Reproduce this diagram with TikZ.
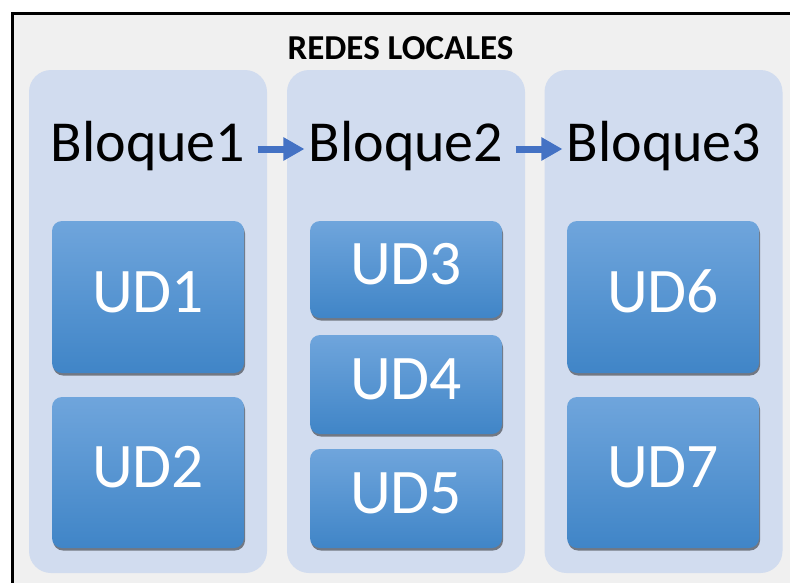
\documentclass[tikz,border=0pt]{standalone}
\usepackage{fontspec}
\setmainfont{Carlito}
\usetikzlibrary{arrows.meta,shadows}

\definecolor{pagebg}{RGB}{240,240,240}
\definecolor{colfill}{RGB}{209,220,239}
\definecolor{udtop}{RGB}{111,165,220}
\definecolor{udmid}{RGB}{86,152,215}
\definecolor{udbot}{RGB}{64,133,199}
\definecolor{arrowblue}{RGB}{68,114,196}

\begin{document}
\begin{tikzpicture}[x=1pt,y=-1pt,
  column/.style={fill=colfill, rounded corners=22pt, draw=none,
    minimum width=238pt, inner sep=0pt},
  blockhead/.style={font=\fontsize{58}{58}\selectfont, text=black,
    inner sep=0pt, anchor=base},
  unit/.style={rounded corners=10pt, top color=udtop, middle color=udmid,
    bottom color=udbot, draw=none, text=white,
    font=\fontsize{63.5}{63.5}\selectfont, text height=41pt, text depth=11pt,
    minimum width=192pt, inner sep=0pt,
    drop shadow={shadow xshift=1pt, shadow yshift=-2.5pt, opacity=0.45,
      fill=black}},
  flow/.style={draw=arrowblue, line width=7pt,
    -{Triangle[length=21pt,width=22pt]},
    shorten <=12pt, shorten >=4pt}]

\useasboundingbox (0,0) rectangle (790,582);

% page background and frame
\fill[white] (0,0) rectangle (790,582);
\fill[pagebg] (12,13) rectangle (791,583);
\draw[line width=3pt] (12,583) -- (12,13) -- (791,13);

% heading
\node[font=\fontsize{35}{35}\selectfont\bfseries, anchor=base, inner sep=0pt]
  (title) at (400.5,59) {REDES LOCALES};

% three columns
\node[column, minimum height=503pt] (c1) at (148,321.5) {};
\node[column, minimum height=503pt] (c2) at (406,321.5) {};
\node[column, minimum height=503pt] (c3) at (663.5,321.5) {};

% column headings
\node[blockhead] (h1) at (148,161) {Bloque1};
\node[blockhead] (h2) at (406,161) {Bloque2};
\node[blockhead] (h3) at (664,161) {Bloque3};

\draw[flow] ([yshift=12pt]h1.base east) -- ([yshift=12pt]h2.base west);
\draw[flow] ([yshift=12pt]h2.base east) -- ([yshift=12pt]h3.base west);

% units
\node[unit, minimum height=152pt] (ud1) at (148,297) {UD1};
\node[unit, minimum height=151pt] (ud2) at (148,472.5) {UD2};
\node[unit, minimum height=97pt] (ud3) at (406,269.5) {UD3};
\node[unit, minimum height=99pt] (ud4) at (406,384.5) {UD4};
\node[unit, minimum height=99pt] (ud5) at (406,498.5) {UD5};
\node[unit, minimum height=152pt] (ud6) at (663,297) {UD6};
\node[unit, minimum height=151pt] (ud7) at (663,472.5) {UD7};
\end{tikzpicture}
\end{document}
